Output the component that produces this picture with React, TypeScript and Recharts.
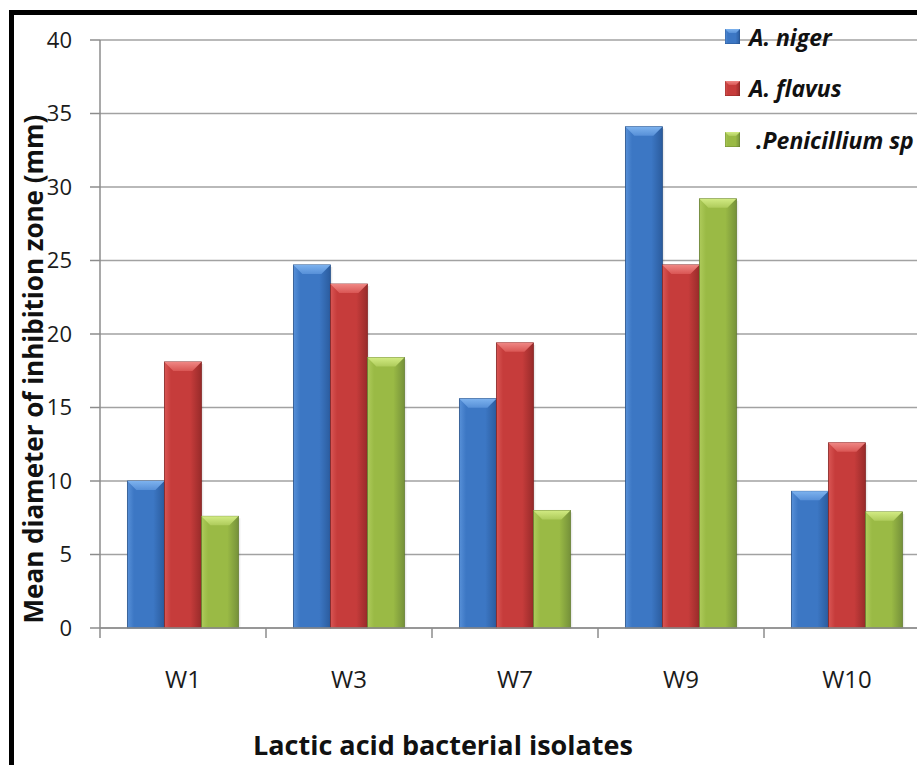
import { BarChart, Bar, XAxis, YAxis, CartesianGrid, Legend } from "recharts";

const CATEGORIES = ["W1", "W3", "W7", "W9", "W10"];
const A_NIGER = [10.0, 24.7, 15.6, 34.1, 9.3];
const A_FLAVUS = [18.1, 23.4, 19.4, 24.7, 12.6];
const PENICILLIUM = [7.6, 18.4, 8.0, 29.2, 7.9];
const Y_TICKS = [0, 5, 10, 15, 20, 25, 30, 35, 40];

const SERIES_KEYS = ["niger", "flavus", "penicillium"] as const;
const SERIES_NAMES = ["A. niger", "A. flavus", ".Penicillium sp"];

const data = CATEGORIES.map((name, i) => ({
  name,
  niger: A_NIGER[i],
  flavus: A_FLAVUS[i],
  penicillium: PENICILLIUM[i],
}));

const FONT = "'Open Sans', 'Liberation Sans', sans-serif";
const AXIS = "#8c8c8c";
const TEXT = "#1b1b1b";

type Key = (typeof SERIES_KEYS)[number];

const PALETTE: Record<Key, { light: string; mid: string; dark: string; top: string; edge: string }> = {
  niger: { light: "#5790d8", mid: "#3c77c4", dark: "#2b5c9e", top: "#7db2ee", edge: "#244f88" },
  flavus: { light: "#d95654", mid: "#c63c3b", dark: "#982b2a", top: "#ef8784", edge: "#822322" },
  penicillium: { light: "#aecb5b", mid: "#9aba45", dark: "#76923a", top: "#d2eb83", edge: "#637c2e" },
};

function Gradients() {
  return (
    <svg width={0} height={0} style={{ position: "absolute" }}>
      <defs>
        {SERIES_KEYS.map((k) => (
          <linearGradient key={`b-${k}`} id={`body-${k}`} x1="0" y1="0" x2="1" y2="0">
            <stop offset="0" stopColor={PALETTE[k].light} />
            <stop offset="0.18" stopColor={PALETTE[k].mid} />
            <stop offset="0.7" stopColor={PALETTE[k].mid} />
            <stop offset="1" stopColor={PALETTE[k].dark} />
          </linearGradient>
        ))}
        {SERIES_KEYS.map((k) => (
          <linearGradient key={`t-${k}`} id={`top-${k}`} x1="0" y1="0" x2="0" y2="1">
            <stop offset="0" stopColor={PALETTE[k].top} />
            <stop offset="1" stopColor={PALETTE[k].light} />
          </linearGradient>
        ))}
      </defs>
    </svg>
  );
}

function makeShape(key: Key) {
  return (props: any) => {
    const { x, y, width, height } = props;
    if (!height || height <= 0) return null;
    const b = Math.min(9, width / 4, height);
    return (
      <g>
        <rect x={x + 2} y={y + 2} width={width} height={height - 2} fill="rgba(0,0,0,0.08)" />
        <rect
          x={x}
          y={y}
          width={width}
          height={height}
          fill={`url(#body-${key})`}
          stroke={PALETTE[key].edge}
          strokeWidth={0.8}
        />
        <polygon
          points={`${x},${y} ${x + width},${y} ${x + width - b},${y + b} ${x + b},${y + b}`}
          fill={`url(#top-${key})`}
        />
      </g>
    );
  };
}

function XTick(props: any) {
  const { x, y, payload, index, visibleTicksCount } = props;
  const half = payload?.offset ?? 83;
  return (
    <g>
      <line x1={x - half} x2={x - half} y1={y} y2={y + 10} stroke={AXIS} strokeWidth={1.5} />
      {index === visibleTicksCount - 1 && (
        <line x1={x + half} x2={x + half} y1={y} y2={y + 10} stroke={AXIS} strokeWidth={1.5} />
      )}
      <text x={x} y={y + 60} textAnchor="middle" fill={TEXT} fontSize={24} fontFamily={FONT}>
        {payload.value}
      </text>
    </g>
  );
}

function renderYLabel(props: any) {
  const vb = props.viewBox;
  const cx = vb.x + 43;
  const cy = vb.y + vb.height / 2 + 35;
  return (
    <text
      x={cx}
      y={cy}
      transform={`rotate(-90 ${cx} ${cy})`}
      textAnchor="middle"
      fill="#111"
      fontSize={26}
      fontWeight={700}
      fontFamily={FONT}
    >
      Mean diameter of inhibition zone (mm)
    </text>
  );
}

function renderXLabel(props: any) {
  const vb = props.viewBox;
  return (
    <text
      x={vb.x + vb.width / 2 - 72}
      y={vb.y + 127}
      textAnchor="middle"
      fill="#111"
      fontSize={27}
      fontWeight={700}
      fontFamily={FONT}
    >
      Lactic acid bacterial isolates
    </text>
  );
}

function LegendBox() {
  return (
    <div style={{ fontFamily: FONT, fontWeight: 700, fontStyle: "italic", fontSize: 23, color: "#111" }}>
      {SERIES_KEYS.map((k, i) => (
        <div key={k} style={{ display: "flex", alignItems: "center", height: 51.5 }}>
          <svg width={15} height={15} style={{ flex: "none" }}>
            <rect x={0} y={0} width={15} height={15} fill={`url(#body-${k})`} stroke={PALETTE[k].edge} strokeWidth={0.8} />
            <polygon points="0,0 15,0 11,4 4,4" fill={`url(#top-${k})`} />
          </svg>
          <span style={{ marginLeft: i === 2 ? 16 : 9, whiteSpace: "pre" }}>{SERIES_NAMES[i]}</span>
        </div>
      ))}
    </div>
  );
}

export default function App() {
  return (
    <div
      style={{
        position: "absolute",
        left: 0,
        top: 0,
        width: 917,
        height: 765,
        overflow: "hidden",
        background: "#fff",
      }}
    >
      <Gradients />
      <div
        style={{
          position: "absolute",
          left: 9,
          top: 10,
          width: 1000,
          height: 1000,
          borderLeft: "5px solid #000",
          borderTop: "5px solid #000",
        }}
      />
      <div style={{ position: "absolute", left: 0, top: 0 }}>
        <BarChart
          width={960}
          height={765}
          data={data}
          margin={{ top: 40, right: 30, left: 0, bottom: 0 }}
          barCategoryGap="16.5%"
          barGap={0}
        >
          <CartesianGrid vertical={false} stroke="#a2a2a2" strokeWidth={1.6} />
          <XAxis
            dataKey="name"
            height={137}
            interval={0}
            tickLine={false}
            tickSize={0}
            tickMargin={0}
            axisLine={{ stroke: AXIS, strokeWidth: 1.5 }}
            tick={XTick}
            label={renderXLabel}
          />
          <YAxis
            domain={[0, 40]}
            ticks={Y_TICKS}
            interval={0}
            width={100}
            tickSize={10}
            tickMargin={18}
            axisLine={{ stroke: AXIS, strokeWidth: 1.5 }}
            tickLine={{ stroke: AXIS, strokeWidth: 1.5 }}
            tick={{ fill: TEXT, fontSize: 22, fontFamily: FONT }}
            label={renderYLabel}
          />
          <Legend
            layout="vertical"
            align="center"
            verticalAlign="middle"
            content={LegendBox}
            wrapperStyle={{ position: "absolute", left: 725, top: 11, width: 260 }}
          />
          {SERIES_KEYS.map((k, i) => (
            <Bar
              key={k}
              dataKey={k}
              name={SERIES_NAMES[i]}
              fill={PALETTE[k].mid}
              shape={makeShape(k)}
              isAnimationActive={false}
            />
          ))}
        </BarChart>
      </div>
    </div>
  );
}
